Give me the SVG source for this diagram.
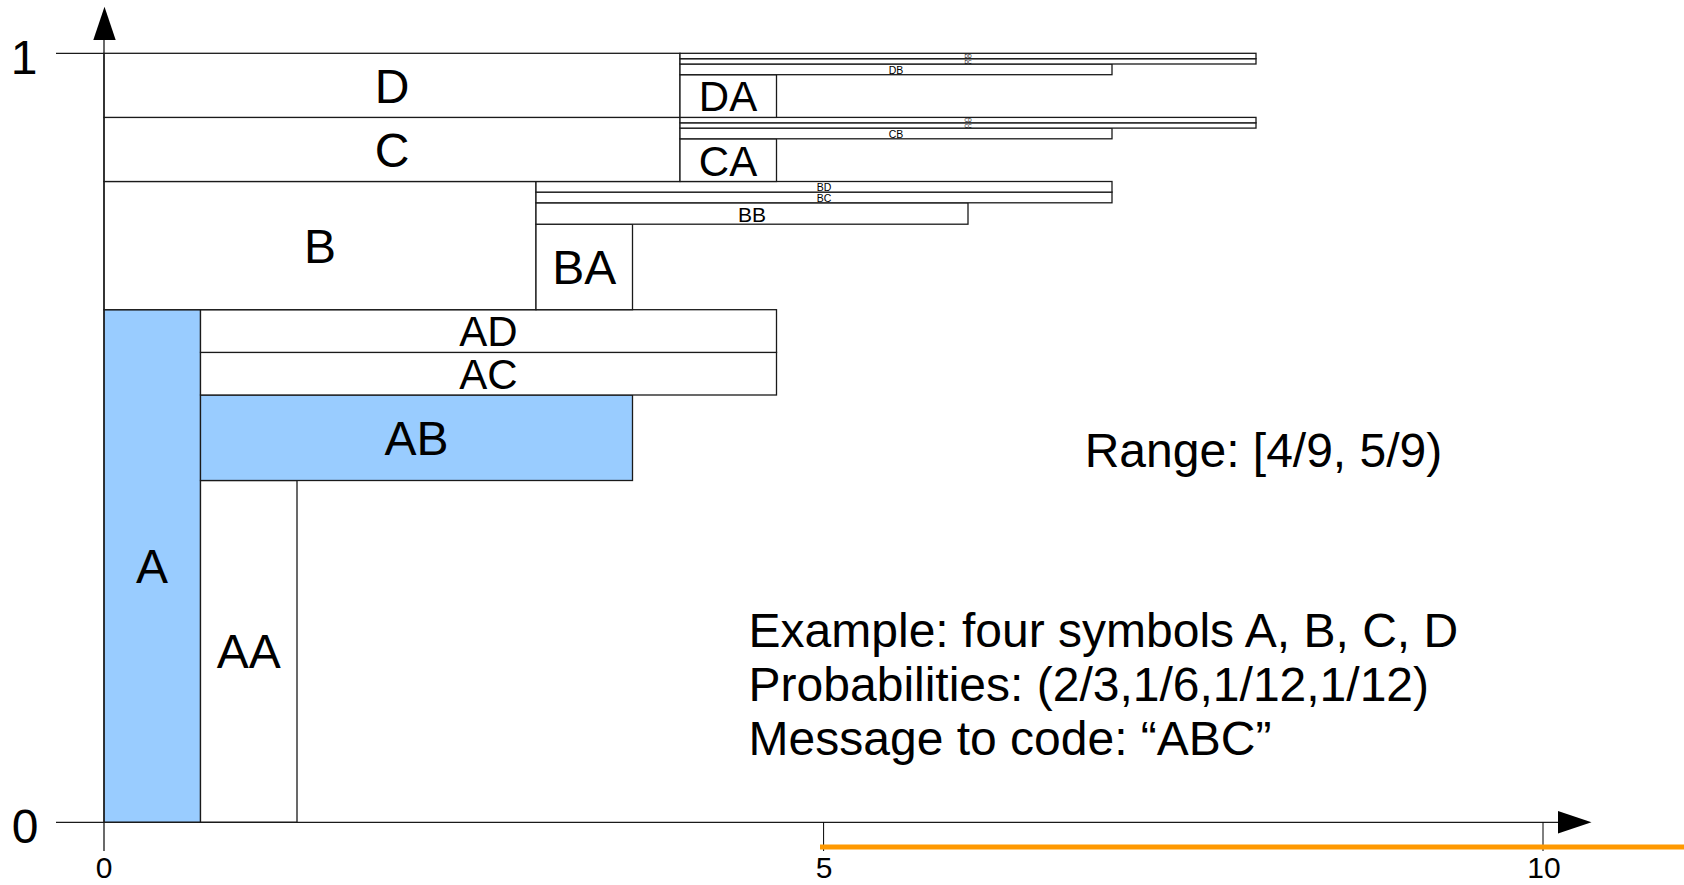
<svg xmlns="http://www.w3.org/2000/svg" width="1684" height="885" viewBox="0 0 1684 885">
<defs>
<style>
text{font-family:"Liberation Sans",Arial,sans-serif;fill:#000;text-anchor:middle}
.b{fill:#fff;stroke:#1a1a1a;stroke-width:1.3}
.h{fill:#99ccff;stroke:#1a1a1a;stroke-width:1.3}
.ax{stroke:#1a1a1a;stroke-width:1.3;fill:none}
.tk{stroke:#000;stroke-width:1;fill:none}
.L{font-size:48px}
.M{font-size:42px}
.S{font-size:21px}
.XS{font-size:10.5px}
.T{font-size:5px}
.N{font-size:30px}
.info{font-size:48px;text-anchor:start}
</style>
</defs>
<rect width="1684" height="885" fill="#fff"/>

<g id="node-A"><rect class="h" x="104" y="309.7" width="96.5" height="512.6"/><text class="L" x="152" y="583">A</text></g>
<g id="node-AA"><rect class="b" x="200.5" y="480.5" width="96.5" height="341.8"/><text class="L" x="248.7" y="668">AA</text></g>
<g id="node-AB"><rect class="h" x="200.5" y="395" width="432" height="85.5"/><text class="L" x="416.5" y="455">AB</text></g>
<g id="node-AC"><rect class="b" x="200.5" y="352.4" width="576" height="42.6"/><text class="M" x="488.5" y="388.7">AC</text></g>
<g id="node-AD"><rect class="b" x="200.5" y="309.7" width="576" height="42.7"/><text class="M" x="488.5" y="346">AD</text></g>

<g id="node-B"><rect class="b" x="104" y="181.5" width="432" height="128.2"/><text class="L" x="320" y="262.6">B</text></g>
<g id="node-BA"><rect class="b" x="536" y="224.2" width="96.5" height="85.5"/><text class="L" x="584.2" y="284.3">BA</text></g>
<g id="node-BB"><rect class="b" x="536" y="202.8" width="432" height="21.4"/><text class="S" x="752" y="221.5">BB</text></g>
<g id="node-BC"><rect class="b" x="536" y="192.1" width="576" height="10.7"/><text class="XS" x="824" y="201.6">BC</text></g>
<g id="node-BD"><rect class="b" x="536" y="181.5" width="576" height="10.6"/><text class="XS" x="824" y="190.8">BD</text></g>

<g id="node-C"><rect class="b" x="104" y="117.4" width="576" height="64.1"/><text class="L" x="392" y="166.8">C</text></g>
<g id="node-CA"><rect class="b" x="680" y="138.8" width="96.5" height="42.7"/><text class="M" x="728" y="175.5">CA</text></g>
<g id="node-CB"><rect class="b" x="680" y="128.1" width="432" height="10.7"/><text class="XS" x="896" y="137.6">CB</text></g>
<g id="node-CC"><rect class="b" x="680" y="122.8" width="576" height="5.3"/><text class="T" x="968" y="127.6">CC</text></g>
<g id="node-CD"><rect class="b" x="680" y="117.4" width="576" height="5.4"/><text class="T" x="968" y="122.3">CD</text></g>

<g id="node-D"><rect class="b" x="104" y="53.3" width="576" height="64.1"/><text class="L" x="392" y="102.6">D</text></g>
<g id="node-DA"><rect class="b" x="680" y="74.7" width="96.5" height="42.7"/><text class="M" x="728" y="111.3">DA</text></g>
<g id="node-DB"><rect class="b" x="680" y="64" width="432" height="10.7"/><text class="XS" x="896" y="73.5">DB</text></g>
<g id="node-DC"><rect class="b" x="680" y="58.7" width="576" height="5.3"/><text class="T" x="968" y="63.5">DC</text></g>
<g id="node-DD"><rect class="b" x="680" y="53.3" width="576" height="5.4"/><text class="T" x="968" y="58.2">DD</text></g>

<g id="axes">
<line class="ax" x1="56" y1="53.3" x2="104" y2="53.3"/>
<line class="ax" x1="104" y1="851" x2="104" y2="40"/>
<polygon points="93.3,40 115.7,40 104.5,6.7" fill="#000"/>
<line class="ax" x1="56" y1="822.3" x2="1558" y2="822.3"/>
<polygon points="1558,811 1558,833.6 1591.5,822.3" fill="#000"/>
<line class="tk" x1="823.6" y1="822.3" x2="823.6" y2="851"/>
<line class="tk" x1="1543" y1="822.3" x2="1543" y2="851"/>
<line x1="820" y1="847" x2="1684" y2="847" stroke="#ff9900" stroke-width="5"/>
<text class="L" x="24" y="74">1</text>
<text class="L" x="25" y="843">0</text>
<text class="N" x="104" y="878">0</text>
<text class="N" x="824" y="878">5</text>
<text class="N" x="1544" y="878">10</text>
</g>

<g id="notes">
<text class="info" x="1084.7" y="467">Range: [4/9, 5/9)</text>
<text class="info" x="748.6" y="647">Example: four symbols A, B, C, D</text>
<text class="info" x="748.6" y="701">Probabilities: (2/3,1/6,1/12,1/12)</text>
<text class="info" x="748.6" y="755">Message to code: “ABC”</text>
</g>
</svg>
